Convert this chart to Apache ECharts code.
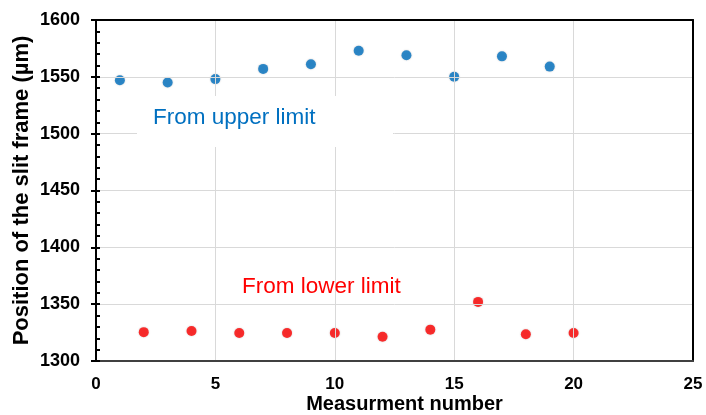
<!DOCTYPE html>
<html>
<head>
<meta charset="utf-8">
<script src="https://cdn.jsdelivr.net/npm/echarts@6/dist/echarts.min.js"></script>
<style>
  html, body { margin: 0; padding: 0; background: #fff; }
  #chart { width: 706px; height: 415px; }
</style>
</head>
<body>
<div id="chart"></div>
<script>
const upperX = [1, 3, 5, 7, 9, 11, 13, 15, 17, 19];
const upperY = [1547, 1545, 1548, 1557, 1561, 1573, 1569, 1550, 1568, 1559];
const lowerX = [2, 4, 6, 8, 10, 12, 14, 16, 18, 20];
const lowerY = [1325.4, 1326.4, 1324.6, 1324.6, 1324.6, 1321.4, 1327.6, 1352, 1323.5, 1324.6];

const FONT = '"Liberation Sans", Arial, sans-serif';

let myChart = echarts.init(document.getElementById('chart'));

function pairs(xs, ys) {
	return xs.map((x, i) => [x, ys[i]]);
}

const gridLine = { lineStyle: { color: '#d9d9d9', width: 1 }, showMinLine: false, showMaxLine: false };

const option = {
	animation: false,
	grid: {
		left: 96,
		right: 13,
		top: 20,
		bottom: 54,
		outerBoundsMode: 'none',
		containLabel: false
	},
	xAxis: [
		{
			type: 'value',
			min: 0,
			max: 25,
			interval: 5,
			name: 'Measurment number',
			nameLocation: 'middle',
			nameGap: 33,
			nameMoveOverlap: false,
			nameTextStyle: {
				fontFamily: FONT, fontSize: 20, fontWeight: 'bold', color: '#000',
				padding: [0, 0, 0, 20]
			},
			z: 5,
			axisLine: { lineStyle: { color: '#404040', width: 2 } },
			axisTick: { show: false },
			axisLabel: { fontFamily: FONT, fontSize: 17, fontWeight: 'bold', color: '#000', margin: 15 },
			splitLine: gridLine
		},
		{
			// top edge of the frame
			type: 'value',
			position: 'top',
			min: 0,
			max: 25,
			z: 5,
			axisLine: { show: true, lineStyle: { color: '#000', width: 2 } },
			axisTick: { show: false },
			axisLabel: { show: false },
			splitLine: { show: false }
		}
	],
	yAxis: [
		{
			type: 'value',
			min: 1300,
			max: 1600,
			interval: 50,
			name: 'Position of the slit frame (µm)',
			nameLocation: 'middle',
			nameGap: 63,
			nameMoveOverlap: false,
			nameTextStyle: { fontFamily: FONT, fontSize: 22, fontWeight: 'bold', color: '#000' },
			z: 5,
			axisLine: { show: true, lineStyle: { color: '#000', width: 2 } },
			axisTick: { show: true, inside: false, length: 5, lineStyle: { color: '#000', width: 2 } },
			axisLabel: {
				fontFamily: FONT, fontSize: 18, fontWeight: 'bold', color: '#000', margin: 16,
				formatter: v => String(v)
			},
			splitLine: gridLine
		},
		{
			// inside ticks of the left axis
			type: 'value',
			position: 'left',
			offset: 0,
			min: 1300,
			max: 1600,
			interval: 50,
			z: 6,
			axisLine: { show: false },
			axisTick: { show: true, inside: true, length: 4, lineStyle: { color: '#000', width: 2 } },
			minorTick: { show: true, splitNumber: 5, length: 4, lineStyle: { color: '#000', width: 2 } },
			axisLabel: { show: false },
			splitLine: { show: false }
		},
		{
			// right edge of the frame
			type: 'value',
			position: 'right',
			min: 1300,
			max: 1600,
			z: 5,
			axisLine: { show: true, lineStyle: { color: '#000', width: 2 } },
			axisTick: { show: false },
			axisLabel: { show: false },
			splitLine: { show: false }
		}
	],
	graphic: [
		{
			type: 'rect',
			z: 50,
			shape: { x: 137, y: 96, width: 256, height: 51 },
			style: { fill: '#fff' }
		},
		{
			type: 'text',
			z: 51,
			x: 153,
			y: 118,
			style: {
				text: 'From upper limit',
				fill: '#0070c0',
				font: '22.5px ' + FONT,
				verticalAlign: 'middle'
			}
		},
		{
			type: 'text',
			z: 51,
			x: 242,
			y: 287,
			style: {
				text: 'From lower limit',
				fill: '#ff0000',
				font: '22.5px ' + FONT,
				verticalAlign: 'middle'
			}
		}
	],
	series: [
		{
			name: 'From upper limit',
			type: 'scatter',
			symbolSize: 10,
			data: pairs(upperX, upperY),
			itemStyle: { color: '#0070c0', shadowBlur: 2, shadowColor: 'rgba(0,0,0,0.25)' }
		},
		{
			name: 'From lower limit',
			type: 'scatter',
			symbolSize: 10,
			data: pairs(lowerX, lowerY),
			itemStyle: { color: '#ff0000', shadowBlur: 2, shadowColor: 'rgba(0,0,0,0.25)' }
		}
	]
};

myChart.setOption(option);
</script>
</body>
</html>
